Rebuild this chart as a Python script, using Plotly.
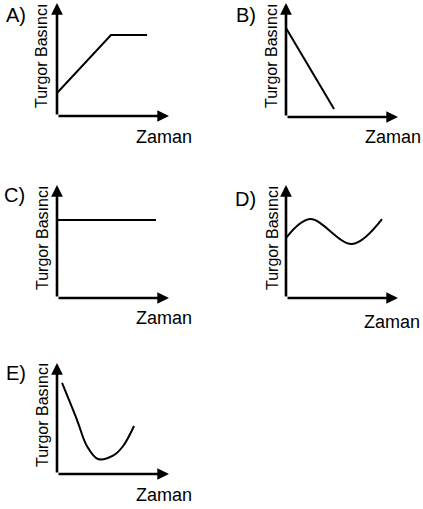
import plotly.graph_objects as go

W, H = 423, 509

panel_names = ["A)", "B)", "C)", "D)", "E)"]
y_label = "Turgor Basıncı"
x_label = "Zaman"

# curves, in units of each small axis box (0..1)
a_x = [0, 0.482, 0.804]
a_y = [0.204, 0.717, 0.717]
b_x = [0, 0.429]
b_y = [0.781, 0.070]
c_x = [0, 0.884]
c_y = [0.69, 0.69]
d_x = [0, 0.214, 0.589, 0.857]
d_y = [0.531, 0.699, 0.478, 0.699]
e_x = [0.045, 0.179, 0.268, 0.366, 0.5, 0.589, 0.688]
e_y = [0.820, 0.486, 0.250, 0.135, 0.165, 0.250, 0.432]

curves = [(a_x, a_y, "linear"), (b_x, b_y, "linear"), (c_x, c_y, "linear"),
          (d_x, d_y, "spline"), (e_x, e_y, "spline")]

# pixel boxes: left, right, top, bottom
boxes = [(57, 169, 3, 116), (286, 398, 3, 117), (57, 169, 185, 298),
         (286, 398, 185, 298), (57, 169, 363, 474)]
# pixel centres of letter, y label and x label
letter_pos = [(16, 15), (246, 15), (14, 195), (246, 199), (16, 373)]
ylab_pos = [(42, 56), (272, 56), (42, 238), (272, 238), (42, 415)]
xlab_pos = [(164, 137), (393, 137), (164, 318), (392, 322), (164, 495)]

font = "Liberation Sans, Arial, sans-serif"


def px(x):
    return x / W


def py(y):
    return 1 - y / H


fig = go.Figure()
layout = {}
annotations = []

for i, (xs, ys, shape) in enumerate(curves):
    n = "" if i == 0 else str(i + 1)
    left, right, top, bottom = boxes[i]
    fig.add_trace(go.Scatter(x=xs, y=ys, mode="lines", xaxis="x" + n, yaxis="y" + n,
                             line=dict(color="black", width=2, shape=shape, smoothing=1.0),
                             showlegend=False, hoverinfo="skip"))
    layout["xaxis" + n] = dict(domain=[px(left), px(right)], range=[0, 1], visible=False,
                               anchor="y" + n, fixedrange=True)
    layout["yaxis" + n] = dict(domain=[py(bottom), py(top)], range=[0, 1], visible=False,
                               anchor="x" + n, fixedrange=True)

    # axis arrows
    for hx, hy in [(0, 1), (1, 0)]:
        annotations.append(dict(x=hx, y=hy, ax=0, ay=0, xref="x" + n, yref="y" + n,
                                axref="x" + n, ayref="y" + n, text="", showarrow=True,
                                arrowhead=2, arrowsize=0.9, arrowwidth=2.6,
                                arrowcolor="black", standoff=0, startstandoff=0))

    annotations.append(dict(x=px(letter_pos[i][0]), y=py(letter_pos[i][1]), xref="paper",
                            yref="paper", text=panel_names[i], showarrow=False,
                            xanchor="center", yanchor="middle",
                            font=dict(size=20, family=font, color="black")))
    annotations.append(dict(x=px(ylab_pos[i][0]), y=py(ylab_pos[i][1]), xref="paper",
                            yref="paper", text=y_label, showarrow=False, textangle=-90,
                            xanchor="center", yanchor="middle",
                            font=dict(size=16, family=font, color="black")))
    annotations.append(dict(x=px(xlab_pos[i][0]), y=py(xlab_pos[i][1]), xref="paper",
                            yref="paper", text=x_label, showarrow=False,
                            xanchor="center", yanchor="middle",
                            font=dict(size=18, family=font, color="black")))

fig.update_layout(layout)
fig.update_layout(
    width=W, height=H,
    margin=dict(l=0, r=0, t=0, b=0),
    paper_bgcolor="white",
    plot_bgcolor="white",
    annotations=annotations,
    font_family=font,
)

# the page body has a default 8px margin, drop it so the figure fills the window
fig.write_html("out.html", config={"displayModeBar": False},
               post_script="document.body.style.margin = '0px';")
